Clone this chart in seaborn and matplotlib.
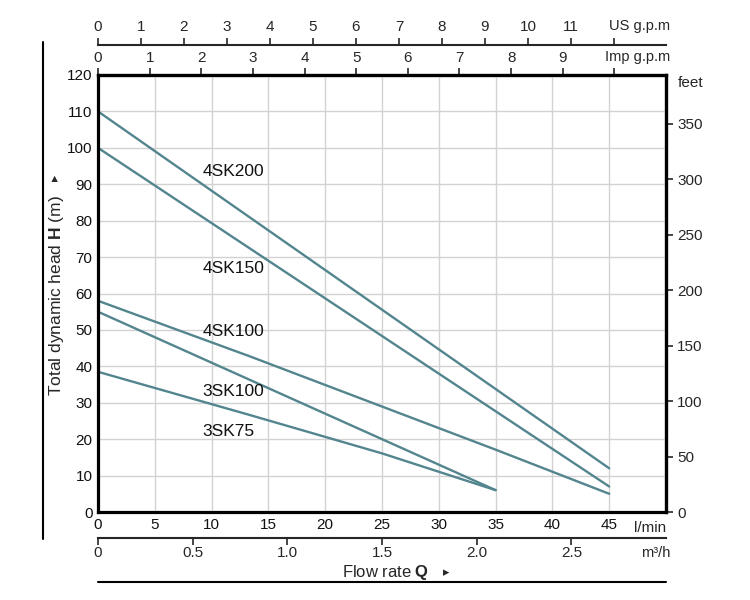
import matplotlib.pyplot as plt
import numpy as np
import pandas as pd
import seaborn as sns
from matplotlib.lines import Line2D

sns.set_theme(style="white")
plt.rcParams["font.family"] = ["Liberation Sans", "DejaVu Sans"]
plt.rcParams["mathtext.fontset"] = "custom"
plt.rcParams["mathtext.rm"] = "Liberation Sans"
plt.rcParams["mathtext.bf"] = "Liberation Sans:bold"

# ---- data (flow in l/min, head in m) ----
flow_4sk200 = [0, 45]
head_4sk200 = [110, 12]
flow_4sk150 = [0, 45]
head_4sk150 = [100, 7]
flow_4sk100 = [0, 13.4, 35.1, 45]
head_4sk100 = [58, 42.7, 17.0, 5]
flow_3sk100 = [0, 35]
head_3sk100 = [55, 6]
flow_3sk75 = [0, 13.4, 25, 35]
head_3sk75 = [38.5, 26.6, 16.1, 6]

models = ["4SK200", "4SK150", "4SK100", "3SK100", "3SK75"]
label_y = [93.4, 67, 49.7, 33, 22]

lpm_ticks = [0, 5, 10, 15, 20, 25, 30, 35, 40, 45]
head_ticks = [0, 10, 20, 30, 40, 50, 60, 70, 80, 90, 100, 110, 120]
feet_ticks = [0, 50, 100, 150, 200, 250, 300, 350]
m3h_ticks = [0, 0.5, 1.0, 1.5, 2.0, 2.5]
us_ticks = list(range(13))
imp_ticks = list(range(11))

curves = [
    (flow_4sk200, head_4sk200),
    (flow_4sk150, head_4sk150),
    (flow_4sk100, head_4sk100),
    (flow_3sk100, head_3sk100),
    (flow_3sk75, head_3sk75),
]
df = pd.concat(
    [pd.DataFrame({"flow": f, "head": h, "model": m}) for m, (f, h) in zip(models, curves)],
    ignore_index=True,
)

line_color = "#53858f"
W, H = 750, 600

fig = plt.figure(figsize=(7.5, 6), dpi=100)
ax = fig.add_axes([98 / W, 1 - 512 / H, 568 / W, 437 / H])

sns.lineplot(
    data=df, x="flow", y="head", hue="model",
    palette={m: line_color for m in models},
    linewidth=1.7, legend=False, ax=ax,
)

ax.set_xlim(0, 50)
ax.set_ylim(0, 120)
ax.set_xticks(list(range(0, 55, 5)))
ax.set_xticklabels([str(t) for t in lpm_ticks] + [""])
ax.set_yticks(head_ticks)
ax.set_yticklabels([str(t) for t in head_ticks])
ax.grid(True, color="#d2d2d2", linewidth=1.0)
ax.tick_params(length=0, labelsize=11, colors="#111111", pad=4)
ax.set_xlabel("")
ax.set_ylabel("")
for s in ax.spines.values():
    s.set_visible(True)
    s.set_color("black")
    s.set_linewidth(2.3)

for m, y in zip(models, label_y):
    ax.text(9.2, y, m, fontsize=12.5, va="center", ha="left", color="#111111")

ax.text(48.6, -2.6, "l/min", fontsize=11, ha="center", va="top")

# secondary axes
lpm_per_us = 3.785
lpm_per_imp = 4.546
lpm_per_m3h = 1000 / 60

imp = ax.secondary_xaxis("top", functions=(lambda x: x / lpm_per_imp, lambda x: x * lpm_per_imp))
imp.set_xticks(imp_ticks)
imp.set_xticklabels([str(t) for t in imp_ticks[:-1]] + [""])
imp.tick_params(direction="out", length=5, width=1.2, labelsize=11, pad=2)
imp.spines["top"].set_linewidth(2.3)

us = ax.secondary_xaxis(1 + 30 / 437, functions=(lambda x: x / lpm_per_us, lambda x: x * lpm_per_us))
us.set_xticks(us_ticks)
us.set_xticklabels([str(t) for t in us_ticks[:-1]] + [""])
us.tick_params(direction="out", length=5, width=1.2, labelsize=11, pad=3)
us.spines["top"].set_linewidth(1.5)

m3h = ax.secondary_xaxis(-26 / 437, functions=(lambda x: x / lpm_per_m3h, lambda x: x * lpm_per_m3h))
m3h.set_xticks(m3h_ticks)
m3h.set_xticklabels(["0", "0.5", "1.0", "1.5", "2.0", "2.5"])
m3h.tick_params(direction="out", length=5, width=1.2, labelsize=11, pad=1)
m3h.spines["bottom"].set_linewidth(1.5)

feet = ax.secondary_yaxis("right", functions=(lambda y: y * 3.281, lambda y: y / 3.281))
feet.set_yticks(feet_ticks)
feet.set_yticklabels([str(t) for t in feet_ticks])
feet.tick_params(direction="out", length=5, width=1.2, labelsize=11, pad=3)
feet.spines["right"].set_linewidth(2.3)

# unit labels
fig.text(640 / W, 1 - 26 / H, "US g.p.m", fontsize=10.5, ha="center", va="center")
fig.text(638 / W, 1 - 57 / H, "Imp g.p.m", fontsize=10.5, ha="center", va="center")
fig.text(691 / W, 1 - 83 / H, "feet", fontsize=11, ha="center", va="center")
fig.text(656 / W, 1 - 553 / H, "m³/h", fontsize=10.5, ha="center", va="center")

# axis titles (triangles drawn separately in DejaVu, which has the glyph)
fig.text(386 / W, 1 - 573 / H, r"Flow rate $\mathbf{Q}$", fontsize=12, ha="center", va="center")
fig.text(446 / W, 1 - 573 / H, "▸", fontsize=9, ha="center", va="center", family="DejaVu Sans")
fig.text(56 / W, 1 - 296 / H, r"Total dynamic head $\mathbf{H}$ (m)", fontsize=12.5,
         ha="center", va="center", rotation=90)
fig.text(56 / W, 1 - 178 / H, "▸", fontsize=9, ha="center", va="center", rotation=90,
         family="DejaVu Sans")

# frame lines
fig.add_artist(Line2D([98 / W, 666 / W], [1 - 582 / H, 1 - 582 / H], color="black", lw=1.5))
fig.add_artist(Line2D([43 / W, 43 / W], [1 - 42 / H, 1 - 539 / H], color="black", lw=1.5))

fig.savefig("out.png", dpi=100)
